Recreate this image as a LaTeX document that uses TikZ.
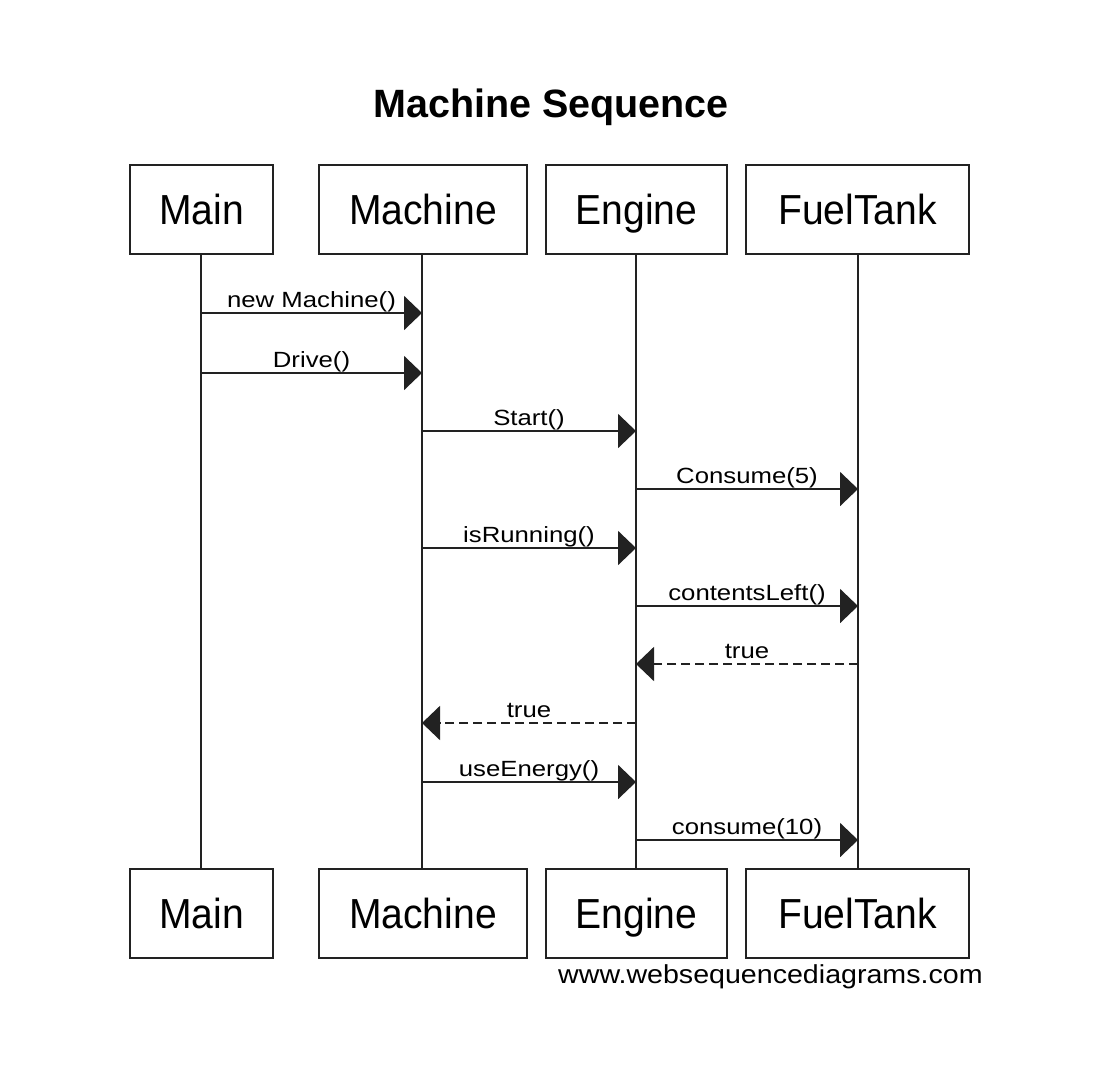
\documentclass[tikz,border=0pt]{standalone}
\usepackage{fontspec}
\usetikzlibrary{arrows.meta}
\newfontfamily\boxfontfam[FakeStretch=0.93]{Liberation Sans}
\newfontfamily\lblfontfam[FakeStretch=1.17]{Liberation Sans}
\newfontfamily\wmfontfam[FakeStretch=1.1]{Liberation Sans}
\newfontfamily\titlefontfam{Liberation Sans}
\definecolor{ink}{HTML}{222222}
\begin{document}
\begin{tikzpicture}[x=1pt,y=-1pt,
  actor/.style={draw=ink, line width=2pt, inner sep=0pt, minimum height=89pt,
    font=\boxfontfam\fontsize{42}{50}\selectfont, text height=30pt, text depth=0pt},
  life/.style={draw=ink, line width=2pt},
  msg/.style={draw=ink, line width=2pt, -{Triangle[length=18pt,width=34pt]}},
  ret/.style={msg, dash pattern=on 9pt off 5pt},
  lbl/.style={midway, anchor=base, yshift=6pt, inner sep=0pt,
    font=\lblfontfam\fontsize{22}{26}\selectfont}]
\useasboundingbox[fill=white] (0,0) rectangle (1094,1068);

\node[font=\titlefontfam\bfseries\fontsize{39.5}{46}\selectfont, anchor=base] (title) at (551,117) {Machine Sequence};

\node[actor, minimum width=143pt] (mainT) at (201.5,209.5) {Main};
\node[actor, minimum width=208pt] (machT) at (423,209.5) {Machine};
\node[actor, minimum width=181pt] (engT) at (636.5,209.5) {Engine};
\node[actor, minimum width=223pt] (fuelT) at (857.5,209.5) {FuelTank};

\node[actor, minimum width=143pt] (mainB) at (201.5,913) {Main};
\node[actor, minimum width=208pt] (machB) at (423,913) {Machine};
\node[actor, minimum width=181pt] (engB) at (636.5,913) {Engine};
\node[actor, minimum width=223pt] (fuelB) at (857.5,913) {FuelTank};

\coordinate (xmain) at (201,0);
\coordinate (xmach) at (422,0);
\coordinate (xeng) at (636,0);
\coordinate (xfuel) at (858,0);

\draw[life] (xmain |- mainT.south) -- (xmain |- mainB.north);
\draw[life] (xmach |- machT.south) -- (xmach |- machB.north);
\draw[life] (xeng |- engT.south) -- (xeng |- engB.north);
\draw[life] (xfuel |- fuelT.south) -- (xfuel |- fuelB.north);

\coordinate (r1) at (0,313);
\coordinate (r2) at (0,373);
\coordinate (r3) at (0,431);
\coordinate (r4) at (0,489);
\coordinate (r5) at (0,548);
\coordinate (r6) at (0,606);
\coordinate (r7) at (0,664);
\coordinate (r8) at (0,723);
\coordinate (r9) at (0,782);
\coordinate (r10) at (0,840);

\draw[msg] (xmain |- r1) -- node[lbl] {new Machine()} (xmach |- r1);
\draw[msg] (xmain |- r2) -- node[lbl] {Drive()} (xmach |- r2);
\draw[msg] (xmach |- r3) -- node[lbl] {Start()} (xeng |- r3);
\draw[msg] (xeng |- r4) -- node[lbl] {Consume(5)} (xfuel |- r4);
\draw[msg] (xmach |- r5) -- node[lbl] {isRunning()} (xeng |- r5);
\draw[msg] (xeng |- r6) -- node[lbl] {contentsLeft()} (xfuel |- r6);
\draw[ret] (xfuel |- r7) -- node[lbl] {true} (xeng |- r7);
\draw[ret] (xeng |- r8) -- node[lbl] {true} (xmach |- r8);
\draw[msg] (xmach |- r9) -- node[lbl] {useEnergy()} (xeng |- r9);
\draw[msg] (xeng |- r10) -- node[lbl] {consume(10)} (xfuel |- r10);

\node[font=\wmfontfam\fontsize{26}{30}\selectfont, anchor=base west, inner sep=0pt] (wm) at (558,983) {www.websequencediagrams.com};
\end{tikzpicture}
\end{document}
